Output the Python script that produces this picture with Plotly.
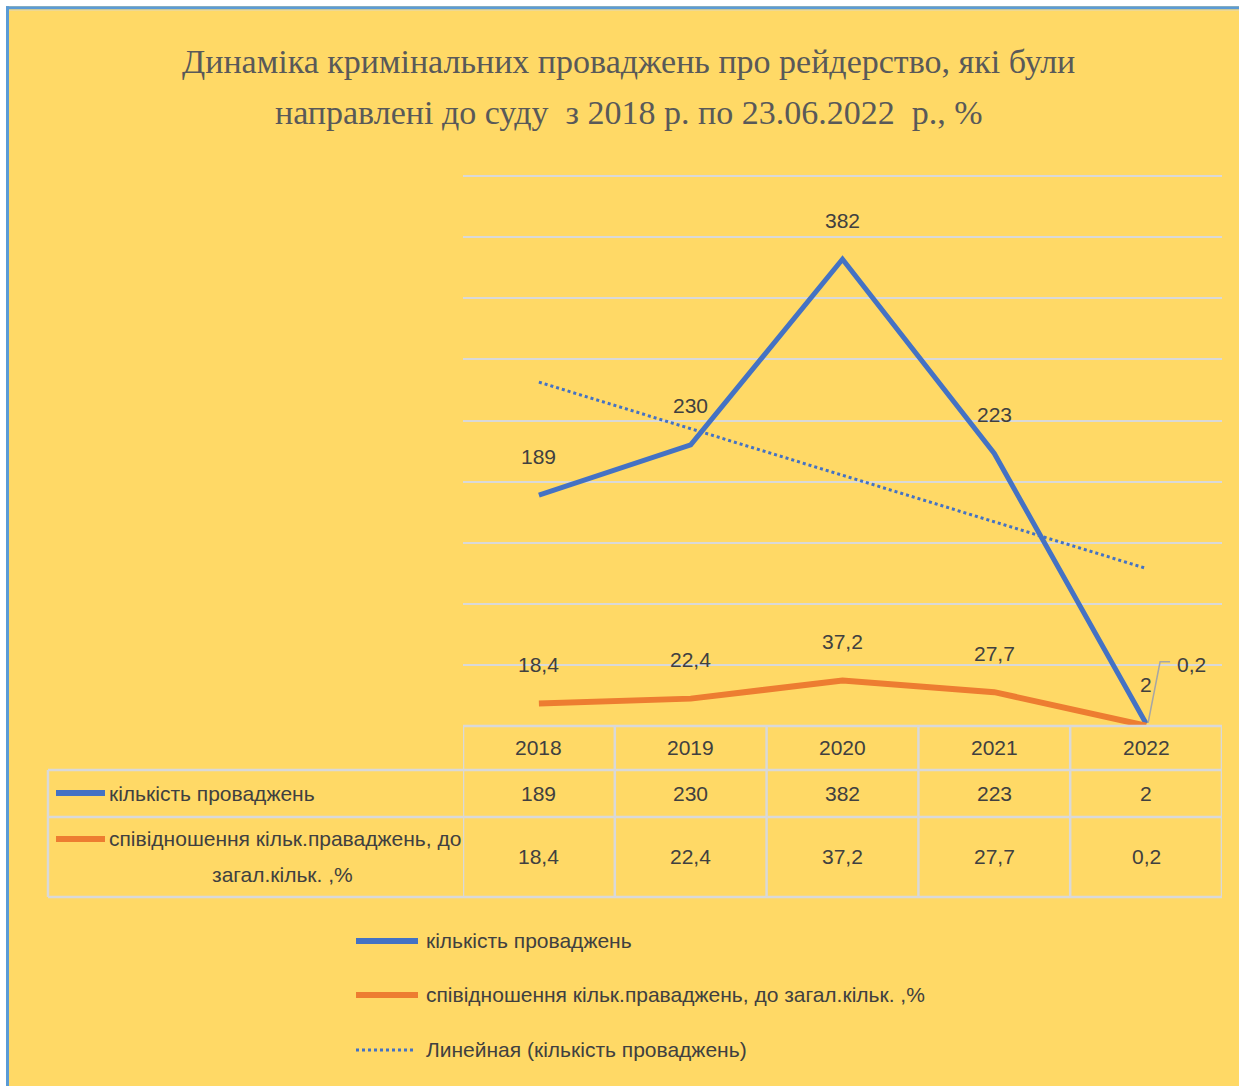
import numpy as np
import plotly.graph_objects as go

# ---------------- data ----------------
years = ["2018", "2019", "2020", "2021", "2022"]
cases = [189, 230, 382, 223, 2]
share = [18.4, 22.4, 37.2, 27.7, 0.2]
name_cases = "кількість проваджень"
name_share = "співідношення кільк.праваджень, до загал.кільк. ,%"
name_share_table = ["співідношення кільк.праваджень, до", "загал.кільк. ,%"]
name_trend = "Линейная (кількість проваджень)"
title_lines = ["Динаміка кримінальних проваджень про рейдерство, які були",
               "направлені до суду\u00a0 з 2018 р. по 23.06.2022\u00a0 р., %"]

# ---------------- style ----------------
W, H = 1239, 1086
L, R, B = 463, 1222, 726
PX_PER_UNIT = 550 / 450          # 450 units span the 550 px between top gridline and baseline
YMAX = 455                       # small headroom so the 450 gridline is drawn
T = B - YMAX * PX_PER_UNIT       # plot-area top in pixels
BG = "#FFD966"
BLUE = "#4472C4"
ORANGE = "#ED7D31"
GRID = "#D9D9D9"
TXT = "#404040"
NARROW = "Liberation Sans Narrow, Arial Narrow, Liberation Sans, Arial, sans-serif"
SERIF = "Liberation Serif, Times New Roman, serif"
FS = 21


def xp(px):
    return (px - L) / (R - L)


def yp(py):
    return (B - py) / (B - T)


def fmt(v):
    return str(v).replace(".", ",")


def txt(text, x, y, xref="paper", yref="paper", xanchor="center", size=FS, **kw):
    d = dict(x=x, y=y, xref=xref, yref=yref, showarrow=False, text=text,
             xanchor=xanchor, yanchor="middle",
             font=dict(family=NARROW, size=size, color=TXT))
    d.update(kw)
    return d


x = list(range(len(years)))
slope, intercept = np.polyfit(x, cases, 1)
trend = [slope * i + intercept for i in x]

fig = go.Figure()
fig.add_trace(go.Scatter(x=x, y=cases, mode="lines", name=name_cases,
                         line=dict(color=BLUE, width=5), showlegend=False))
fig.add_trace(go.Scatter(x=x, y=share, mode="lines", name=name_share,
                         line=dict(color=ORANGE, width=6), showlegend=False))
fig.add_trace(go.Scatter(x=x, y=trend, mode="lines", name=name_trend,
                         line=dict(color=BLUE, width=3, dash="dot"), showlegend=False))

ann = []
shapes = []

# title
for line, py in zip(title_lines, (61, 112)):
    ann.append(dict(x=xp(628), y=yp(py), xref="paper", yref="paper", showarrow=False,
                    text=line, xanchor="center", yanchor="middle",
                    font=dict(family=SERIF, size=34, color="#595959")))

# data labels (offset above each point)
for i in x:
    ann.append(txt(fmt(cases[i]), i, cases[i], xref="x", yref="y", yshift=39))
for i in x[:-1]:
    ann.append(txt(fmt(share[i]), i, share[i], xref="x", yref="y", yshift=39))
# last orange label with leader line
i = x[-1]
ann.append(txt(fmt(share[i]), i, share[i], xref="x", yref="y", xshift=45, yshift=61))
pxu = (R - L) / len(years)
shapes.append(dict(type="path", xref="x", yref="y",
                   path=f"M {i + 2 / pxu},{share[i] + 3 / PX_PER_UNIT} "
                        f"L {i + 14 / pxu},{share[i] + 64 / PX_PER_UNIT} "
                        f"L {i + 24 / pxu},{share[i] + 64 / PX_PER_UNIT}",
                   line=dict(color="#A6A6A6", width=1.5)))

# data table
for i in x:
    ann.append(txt(years[i], i, yp(748), xref="x"))
    ann.append(txt(fmt(cases[i]), i, yp(794), xref="x"))
    ann.append(txt(fmt(share[i]), i, yp(857), xref="x"))
ann.append(txt(name_cases, xp(107), yp(794), xanchor="left"))
ann.append(txt(name_share_table[0], xp(107), yp(839), xanchor="left"))
ann.append(txt(name_share_table[1], xp(282), yp(875)))

tl = dict(color=GRID, width=2.5)
shapes.append(dict(type="line", xref="x", yref="paper", x0=-0.5, x1=len(years) - 0.5,
                   y0=yp(726), y1=yp(726), line=tl))
for py in (770, 817, 897):
    shapes.append(dict(type="line", xref="paper", yref="paper", x0=xp(48), x1=1,
                       y0=yp(py), y1=yp(py), line=tl))
for k in range(len(years) + 1):
    shapes.append(dict(type="line", xref="x", yref="paper", x0=k - 0.5, x1=k - 0.5,
                       y0=yp(726), y1=yp(897), line=tl))
shapes.append(dict(type="line", xref="paper", yref="paper", x0=xp(48), x1=xp(48),
                   y0=yp(770), y1=yp(897), line=tl))
# table keys
shapes.append(dict(type="line", xref="paper", yref="paper", x0=xp(56), x1=xp(105),
                   y0=yp(793), y1=yp(793), line=dict(color=BLUE, width=6)))
shapes.append(dict(type="line", xref="paper", yref="paper", x0=xp(56), x1=xp(105),
                   y0=yp(839), y1=yp(839), line=dict(color=ORANGE, width=6)))

# bottom legend
leg = [(name_cases, BLUE, 941, None, 6, 418), (name_share, ORANGE, 995, None, 6, 418),
       (name_trend, BLUE, 1050, "dot", 3, 414)]
for t, col, py, dash, wd, xe in leg:
    shapes.append(dict(type="line", xref="paper", yref="paper", x0=xp(356), x1=xp(xe),
                       y0=yp(py), y1=yp(py), line=dict(color=col, width=wd, dash=dash)))
    ann.append(txt(t, xp(424), yp(py), xanchor="left"))

# outer frame: white strip + blue edge on top and left
shapes.append(dict(type="rect", xref="paper", yref="paper", x0=xp(-2), x1=xp(6), y0=yp(H + 2), y1=yp(-2),
                   fillcolor="white", line=dict(width=0), layer="below"))
shapes.append(dict(type="rect", xref="paper", yref="paper", x0=xp(-2), x1=xp(W + 2), y0=yp(6), y1=yp(-2),
                   fillcolor="white", line=dict(width=0), layer="below"))
shapes.append(dict(type="line", xref="paper", yref="paper", x0=xp(6), x1=xp(W + 2), y0=yp(10), y1=yp(10),
                   line=dict(color="#E4D9B0", width=1)))
shapes.append(dict(type="line", xref="paper", yref="paper", x0=xp(7.5), x1=xp(7.5), y0=yp(6), y1=yp(H + 2),
                   line=dict(color="#5B9BD5", width=3)))
shapes.append(dict(type="line", xref="paper", yref="paper", x0=xp(6), x1=xp(W + 2), y0=yp(7.5), y1=yp(7.5),
                   line=dict(color="#5B9BD5", width=3)))

fig.update_layout(
    width=W, height=H, autosize=False,
    margin=dict(l=L, r=W - R, t=T, b=H - B, pad=0),
    paper_bgcolor=BG, plot_bgcolor=BG,
    xaxis=dict(range=[-0.5, len(years) - 0.5], showgrid=False, zeroline=False,
               showticklabels=False, showline=False, fixedrange=True),
    yaxis=dict(range=[0, YMAX], tick0=0, dtick=50, showgrid=True, gridcolor=GRID, gridwidth=2,
               zeroline=False, showticklabels=False, showline=False, fixedrange=True),
    annotations=ann, shapes=shapes, showlegend=False,
)

fig.write_html("out.html", config={"displayModeBar": False},
               post_script="document.body.style.margin='0px';document.body.style.overflow='hidden';")
